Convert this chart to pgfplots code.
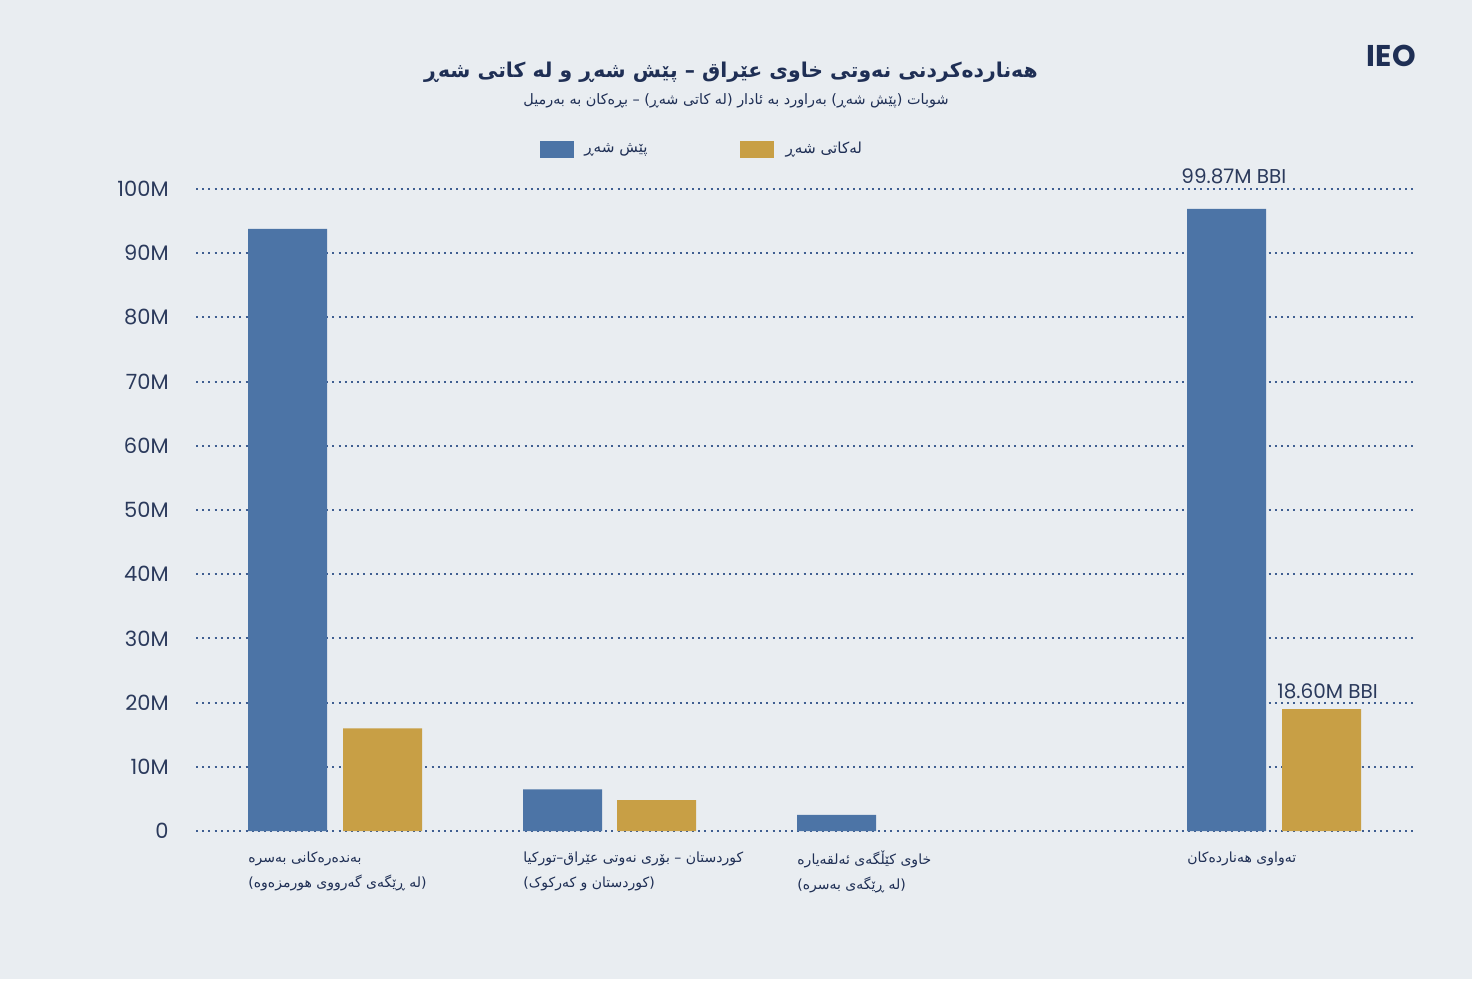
\documentclass[border=0pt]{standalone}
\usepackage{fontspec}
\usepackage{pgfplots}
\pgfplotsset{compat=1.18}
\setmainfont{Poppins}
\newfontfamily\ku[Script=Arabic]{DejaVu Sans}
\TeXXeTstate=1
\definecolor{bgc}{HTML}{E9EDF1}
\definecolor{blueC}{HTML}{4C74A6}
\definecolor{goldC}{HTML}{C89F45}
\definecolor{navy}{HTML}{1F2F55}
\definecolor{tickc}{HTML}{2B3A5C}
\definecolor{gridc}{HTML}{3F5E91}
\begin{document}
\begin{tikzpicture}
\fill[white] (-98pt,-75.5pt) rectangle (638pt,-74pt);
\fill[bgc] (-98pt,-74pt) rectangle (638pt,415.5pt);
\begin{axis}[
  at={(0,0)}, anchor=south west,
  scale only axis, width=609pt, height=321pt,
  xmin=196, xmax=1414, ymin=0, ymax=100,
  axis line style={draw=none},
  major tick length=0pt,
  ymajorgrids,
  grid style={gridc, line width=1pt, dash pattern=on 1pt off 2.1pt},
  ytick={0,10,20,30,40,50,60,70,80,90,100},
  yticklabels={0,10M,20M,30M,40M,50M,60M,70M,80M,90M,100M},
  yticklabel style={anchor=east, inner sep=0pt, xshift=-13.5pt, font=\fontsize{10.5}{12}\selectfont, text=tickc},
  xtick={248,523,797,1187},
  xticklabels={{\beginR بەندەرەکانی بەسرە\endR\\\beginR(لە ڕێگەی گەرووی هورمزەوە)\endR},
               {\beginR کوردستان – بۆری نەوتی عێراق–تورکیا\endR\\\beginR(کوردستان و کەرکوک)\endR},
               {\beginR خاوی کێڵگەی ئەلقەیارە\endR\\\beginR(لە ڕێگەی بەسرە)\endR},
               {\beginR تەواوی هەناردەکان\endR}},
  xticklabel style={anchor=north west, inner sep=0pt, yshift=-10pt, align=left, font=\ku\fontsize{7}{12.5}\selectfont, text=navy},
  ybar, bar width=79, bar shift=0,
  clip=false,
  legend style={at={(axis cs:540,106.2)}, anchor=west, draw=none, fill=none, inner sep=0pt,
    font=\ku\fontsize{7.6}{10}\selectfont, text=navy,
    /tikz/every even column/.append style={column sep=44pt}},
  legend columns=2,
  legend image code/.code={\fill[#1] (0pt,-4.25pt) rectangle (17pt,4.25pt);},
]
\addplot[fill=blueC, draw=none] coordinates {(287.5,93.8) (562.5,6.5) (836.5,2.5) (1226.5,96.9)};
\addlegendentry{\hspace*{3pt}\beginR پێش شەڕ\endR}
\addplot[fill=goldC, draw=none] coordinates {(382.5,16.0) (656.5,4.8) (1321.5,19.0)};
\addlegendentry{\hspace*{4pt}\beginR لەکاتی شەڕ\endR}
\node[anchor=west, inner sep=0pt, text=tickc, font=\fontsize{10}{12}\selectfont] at (axis cs:1181,101.9) {99.87M BBI};
\node[anchor=west, inner sep=0pt, text=tickc, font=\fontsize{10}{12}\selectfont] at (axis cs:1277,21.8) {18.60M BBI};
\end{axis}
\node[text=navy, font=\ku\fontsize{10.2}{13}\selectfont\bfseries, inner sep=0pt] at (267.5pt,379.5pt) {\beginR هەناردەکردنی نەوتی خاوی عێراق – پێش شەڕ و لە کاتی شەڕ\endR};
\node[text=navy, font=\ku\fontsize{7.2}{9}\selectfont, inner sep=0pt] at (270pt,365pt) {\beginR شوبات (پێش شەڕ) بەراورد بە ئادار (لە کاتی شەڕ) – بڕەکان بە بەرمیل\endR};
\node[text=navy, font=\fontsize{15}{17}\selectfont\bfseries, anchor=east, inner sep=0pt] at (610pt,387.75pt) {IEO};
\end{tikzpicture}
\end{document}
